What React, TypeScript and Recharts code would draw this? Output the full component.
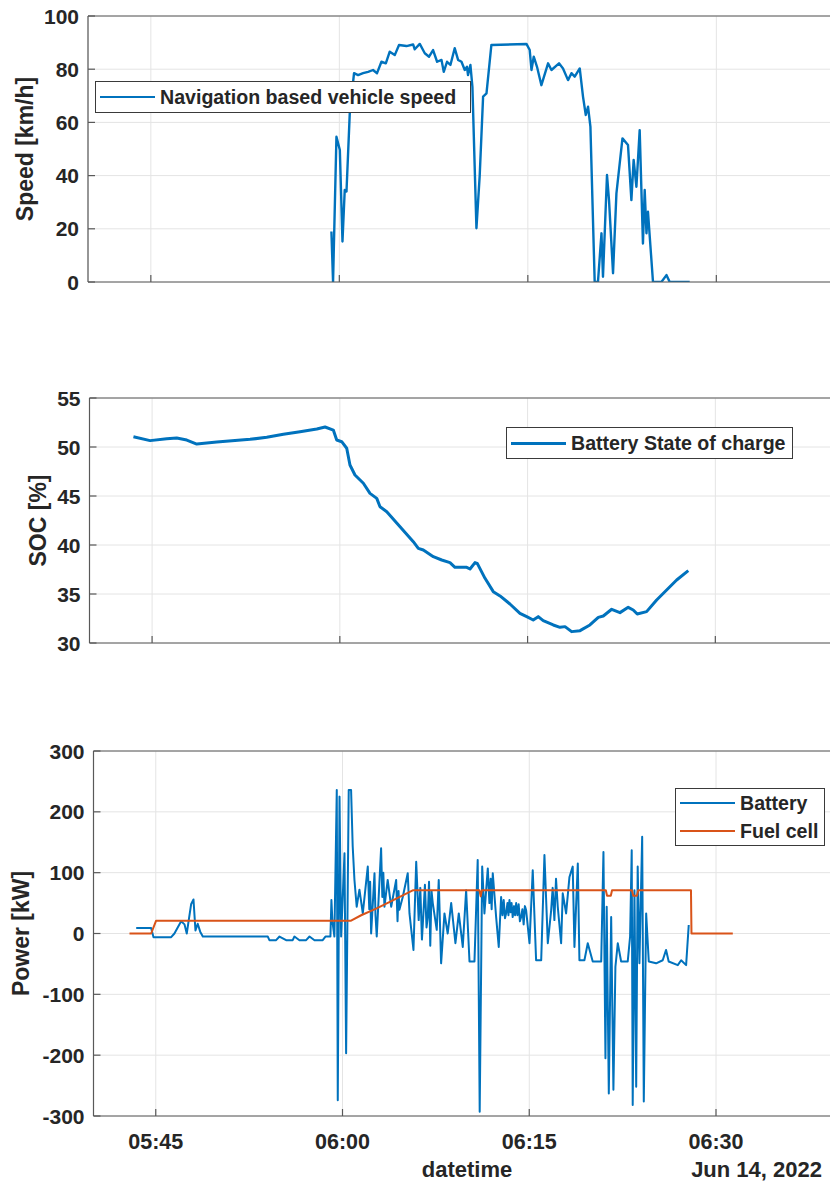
import { LineChart, Line, XAxis, YAxis, CartesianGrid } from 'recharts';

// time axis values are minutes after midnight (345 = 05:45)
const speedTime = [
  359.37, 359.5, 359.77, 360.04, 360.25, 360.43, 360.57, 360.83, 361.17, 361.49,
  361.89, 362.29, 362.68, 363.0, 363.35, 363.7, 364.01, 364.41, 364.75, 365.34,
  365.87, 366.0, 366.4, 366.8, 367.14, 367.46, 367.78, 368.13, 368.31, 368.57,
  368.84, 369.18, 369.45, 369.72, 369.98, 370.16, 370.24, 370.43, 370.59, 370.91,
  371.17, 371.44, 371.71, 372.1, 374.89, 375.15, 375.29, 375.47, 375.73, 376.08,
  376.61, 376.88, 377.48, 377.8, 378.2, 378.47, 378.73, 379.13, 379.39, 379.61,
  379.79, 379.98, 380.32, 380.58, 380.86, 380.98, 381.3, 381.46, 381.78, 382.05,
  382.53, 382.97, 383.24, 383.42, 383.64, 383.9, 384.16, 384.3, 384.44, 384.56,
  384.96, 385.63, 386.03, 386.29, 387.88,
];
const speedKmh = [
  19, 0, 54.6, 49.6, 15.2, 34.6, 34, 63.4, 78.5, 77.8,
  78.5, 79, 79.7, 78.5, 82.8, 82.2, 86.6, 85.3, 89.1, 88.7,
  89.3, 87.5, 89.5, 86, 84.7, 87.2, 82.8, 83.5, 79, 82.8,
  81.6, 87.9, 83.5, 82.8, 79.7, 80.9, 77.8, 81.6, 73.4, 20.2,
  40, 69.7, 70.9, 89.1, 89.5, 87.2, 79.7, 84.7, 80.9, 74,
  82.2, 79.7, 82.2, 80.3, 75.9, 78.5, 77.2, 80.3, 69.7, 62.8,
  65.9, 58.4, 0, 0, 18.3, 2, 40.2, 30.8, 3.3, 33.3,
  54, 51.5, 30.8, 45.9, 35.8, 57.1, 14.5, 34.6, 18.3, 26.4,
  0, 0, 2.6, 0, 0,
];

const socTime = [
  343.51, 344.84, 346.17, 346.97, 347.77, 348.57, 350.17, 352.83, 354.16, 355.49,
  356.82, 358.16, 358.82, 359.48, 359.75, 360.15, 360.55, 360.81, 361.21, 361.88,
  362.41, 362.95, 363.21, 363.75, 364.81, 365.87, 366.27, 366.67, 367.47, 368.14,
  368.8, 369.2, 370.14, 370.4, 370.8, 370.98, 371.6, 372.26, 372.8, 373.59,
  374.39, 374.93, 375.45, 375.85, 376.25, 377.05, 377.59, 377.99, 378.52, 379.19,
  379.98, 380.65, 381.05, 381.72, 382.38, 383.04, 383.44, 383.76, 384.51, 385.31,
  386.11, 386.91, 387.84,
];
const socPct = [
  51.05, 50.65, 50.85, 50.92, 50.71, 50.3, 50.5, 50.78, 50.99, 51.3,
  51.56, 51.84, 52.04, 51.73, 50.71, 50.54, 49.87, 48.16, 47.14, 46.3,
  45.27, 44.76, 43.91, 43.4, 41.87, 40.34, 39.66, 39.49, 38.81, 38.47,
  38.2, 37.72, 37.72, 37.55, 38.2, 38.13, 36.6, 35.24, 34.8, 33.98,
  33.03, 32.69, 32.35, 32.69, 32.28, 31.84, 31.6, 31.67, 31.16, 31.26,
  31.84, 32.62, 32.76, 33.44, 33.1, 33.64, 33.37, 32.96, 33.2, 34.39,
  35.41, 36.43, 37.38,
];

const batteryTime = [
  343.43, 344.63, 344.82, 346.24, 346.5, 347.04, 347.31, 347.49, 347.84, 348.03,
  348.19, 348.37, 348.57, 348.78, 354.0, 354.13, 354.67, 354.94, 355.47, 356.0,
  356.14, 356.54, 357.08, 357.35, 357.75, 358.41, 358.63, 359.03, 359.11, 359.19,
  359.35, 359.54, 359.62, 359.76, 359.89, 360.16, 360.29, 360.5, 360.69, 360.82,
  360.96, 361.14, 361.36, 361.63, 362.03, 362.15, 362.22, 362.3, 362.57, 362.65,
  362.75, 363.1, 363.2, 363.28, 363.37, 363.63, 363.91, 364.31, 364.42, 364.5,
  364.57, 364.84, 365.24, 365.38, 365.7, 365.92, 366.12, 366.25, 366.38, 366.5,
  366.62, 366.75, 366.85, 366.95, 367.05, 367.15, 367.25, 367.57, 367.73, 367.92,
  368.19, 368.45, 368.73, 369.07, 369.34, 369.66, 369.93, 370.2, 370.6, 370.86,
  371.02, 371.22, 371.4, 371.67, 371.8, 371.9, 371.98, 372.07, 372.34, 372.55,
  372.74, 372.85, 372.95, 373.05, 373.14, 373.25, 373.33, 373.41, 373.5, 373.58,
  373.67, 373.78, 373.86, 373.95, 374.05, 374.15, 374.25, 374.35, 374.45, 374.55,
  374.65, 374.75, 375.02, 375.28, 375.55, 375.96, 376.22, 376.49, 376.76, 376.88,
  377.02, 377.15, 377.29, 377.56, 377.69, 377.96, 378.23, 378.49, 378.63, 378.9,
  379.03, 379.43, 379.7, 380.1, 380.78, 380.96, 381.12, 381.22, 381.39, 381.58,
  381.76, 381.92, 382.11, 382.38, 382.91, 383.1, 383.23, 383.31, 383.45, 383.59,
  383.71, 383.85, 384.07, 384.2, 384.39, 384.6, 385.19, 385.72, 385.99, 386.2,
  386.93, 387.2, 387.6, 387.81,
];
const batteryKw = [
  9, 9, -6, -6, 0, 20, 15, 0, 48, 56,
  5, 16, 3, -5, -5, -11, -11, -5, -11, -11,
  -5, -11, -11, -5, -11, -11, -5, -5, 55, 20,
  -5, 236, -274, 225, -5, 132, -197, 236, 236, 143,
  88, 44, 72, 33, 110, 40, 85, 0, 99, 30,
  -5, 140, 60, 100, 44, 88, 44, 88, 20, 70,
  39, 60, 99, 33, -27, 118, 22, 75, -10, 33,
  80, 10, 27, 85, -20, 70, 50, 6, 88, -49,
  33, 0, 50, -16, 33, -22, 71, -46, -46, 121,
  -293, 110, 33, 107, 50, 90, 40, 99, 27, -22,
  60, 30, 55, 25, 33, 50, 30, 55, 35, 50,
  27, 45, 30, 50, 30, 48, 20, 27, 40, 15,
  45, 38, -16, 104, -44, -44, 129, -16, 38, 75,
  22, 90, 44, -16, 66, 33, 93, 110, -22, 115,
  -44, -44, -16, -46, -46, 134, -205, 44, -263, 27,
  -257, -55, -16, -46, -46, -5, 137, -282, 71, -252,
  110, -49, 159, -276, 33, -46, -49, -44, -27, -46,
  -52, -44, -52, 14,
];

const fuelCellTime = [
  342.89, 344.63, 345.03, 360.69, 361.5, 362.7, 363.8, 365.64, 371.0, 371.1,
  371.2, 381.15, 381.25, 381.55, 381.65, 383.25, 383.35, 383.65, 383.75, 387.99,
  388.03, 391.35,
];
const fuelCellKw = [
  0, 0, 21, 21, 30, 41, 52, 71, 71, 61,
  71, 71, 62, 62, 71, 71, 62, 62, 71, 71,
  0, 0,
];

const xTicks = [345, 360, 375, 390];
const speedTicks = [0, 20, 40, 60, 80, 100];
const socTicks = [30, 35, 40, 45, 50, 55];
const powerTicks = [-300, -200, -100, 0, 100, 200, 300];

const pairs = (t: number[], v: number[]) => t.map((x, i) => ({ t: x, v: v[i] }));

const BLUE = '#0072BD';
const ORANGE = '#D95319';
const INK = '#262626';
const AXIS = '#595959';
const GRID = '#e4e4e4';
const FONT = '"Liberation Sans", Arial, Helvetica, sans-serif';
const TICK_LEN = 7;

const clock = (m: number) =>
  `${String(Math.floor(m / 60)).padStart(2, '0')}:${String(m % 60).padStart(2, '0')}`;

interface Geom { left: number; top: number; width: number; height: number }
interface Series { data: { t: number; v: number }[]; color: string; width: number }

function Panel({ g, domain, yTicks, series, xLabels }: {
  g: Geom; domain: [number, number]; yTicks: number[]; series: Series[]; xLabels?: boolean;
}) {
  const padTop = 20;
  const padBottom = 70;
  const padRight = 10;
  // the top/bottom x axes and the right y axis each take 1px, so trim the margins by that
  return (
    <div style={{ position: 'absolute', left: 0, top: g.top - padTop }}>
      <LineChart
        width={g.left + g.width + padRight}
        height={padTop + g.height + padBottom}
        margin={{ top: padTop - 1, right: padRight - 1, bottom: padBottom - 1, left: 0 }}
      >
        <CartesianGrid stroke={GRID} strokeWidth={1} />
        <XAxis
          type="number" dataKey="t" domain={[340, 400]} ticks={xTicks} interval={0}
          allowDataOverflow height={1} tickSize={0} tickMargin={0} tickLine={false}
          axisLine={{ stroke: AXIS, strokeWidth: 1.2 }}
          tick={(p: any) => (
            <g>
              <line x1={p.x} x2={p.x} y1={p.y} y2={p.y - TICK_LEN} stroke={AXIS} strokeWidth={1.2} />
              {xLabels && (
                <text x={p.x} y={p.y + 33} textAnchor="middle" fill={INK}
                  style={{ fontFamily: FONT, fontWeight: 700, fontSize: 21.5 }}>
                  {clock(p.payload.value)}
                </text>
              )}
            </g>
          )}
        />
        <XAxis
          xAxisId="top" orientation="top" type="number" domain={[340, 400]} ticks={xTicks}
          interval={0} allowDataOverflow height={1} tickSize={0} tickMargin={0} tickLine={false}
          axisLine={{ stroke: AXIS, strokeWidth: 1.2 }}
          tick={(p: any) => (
            <line x1={p.x} x2={p.x} y1={p.y} y2={p.y + TICK_LEN} stroke={AXIS} strokeWidth={1.2} />
          )}
        />
        <YAxis
          type="number" domain={domain} ticks={yTicks} interval={0} allowDataOverflow
          width={g.left} tickSize={0} tickMargin={0} tickLine={false}
          axisLine={{ stroke: AXIS, strokeWidth: 1.2 }}
          tick={(p: any) => (
            <g>
              <line x1={p.x} x2={p.x + TICK_LEN} y1={p.y} y2={p.y} stroke={AXIS} strokeWidth={1.2} />
              <text x={p.x - 9} y={p.y + 7.5} textAnchor="end" fill={INK}
                style={{ fontFamily: FONT, fontWeight: 700, fontSize: 21 }}>
                {p.payload.value}
              </text>
            </g>
          )}
        />
        <YAxis
          yAxisId="r" orientation="right" type="number" domain={domain} ticks={yTicks}
          interval={0} allowDataOverflow width={1} tickSize={0} tickMargin={0} tickLine={false}
          axisLine={{ stroke: AXIS, strokeWidth: 1.2 }}
          tick={(p: any) => (
            <line x1={p.x} x2={p.x - TICK_LEN} y1={p.y} y2={p.y} stroke={AXIS} strokeWidth={1.2} />
          )}
        />
        {series.map((s, i) => (
          <Line
            key={i} data={s.data} dataKey="v" type="linear" stroke={s.color}
            strokeWidth={s.width} strokeLinejoin="round" dot={false} activeDot={false}
            isAnimationActive={false}
          />
        ))}
      </LineChart>
    </div>
  );
}

function LegendBox({ left, top, width, rowH, items }: {
  left: number; top: number; width: number; rowH: number; items: { label: string; color: string; lw: number }[];
}) {
  return (
    <div style={{
      position: 'absolute', left, top, width, boxSizing: 'border-box',
      border: '1.2px solid #3a3a3a', background: '#fff', padding: '0 4px',
    }}>
      {items.map((it) => (
        <div key={it.label} style={{ display: 'flex', alignItems: 'center', height: rowH }}>
          <div style={{ width: 55, height: it.lw, background: it.color, marginRight: 5, flexShrink: 0 }} />
          <span style={{
            fontFamily: FONT, fontWeight: 700, fontSize: 19.6, color: INK, whiteSpace: 'nowrap',
          }}>{it.label}</span>
        </div>
      ))}
    </div>
  );
}

const speedGeom: Geom = { left: 88, top: 16, width: 754, height: 266 };
const socGeom: Geom = { left: 89.5, top: 398, width: 751, height: 245 };
const powerGeom: Geom = { left: 93.5, top: 751, width: 747, height: 365 };

function YTitle({ x, g, text }: { x: number; g: Geom; text: string }) {
  const cy = g.top + g.height / 2;
  return (
    <text x={x} y={cy} transform={`rotate(-90 ${x} ${cy})`} textAnchor="middle" fill={INK}
      style={{ fontFamily: FONT, fontWeight: 700, fontSize: 23 }}>
      {text}
    </text>
  );
}

export default function App() {
  return (
    <div style={{
      position: 'relative', width: 838, height: 1182, margin: '-8px 0 0 -8px',
      overflow: 'hidden', background: '#fff',
    }}>
      <Panel g={speedGeom} domain={[0, 100]} yTicks={speedTicks}
        series={[{ data: pairs(speedTime, speedKmh), color: BLUE, width: 2.4 }]} />
      <Panel g={socGeom} domain={[30, 55]} yTicks={socTicks}
        series={[{ data: pairs(socTime, socPct), color: BLUE, width: 3 }]} />
      <Panel g={powerGeom} domain={[-300, 300]} yTicks={powerTicks} xLabels
        series={[
          { data: pairs(batteryTime, batteryKw), color: BLUE, width: 2 },
          { data: pairs(fuelCellTime, fuelCellKw), color: ORANGE, width: 2 },
        ]} />

      <svg width={838} height={1182} style={{ position: 'absolute', left: 0, top: 0, pointerEvents: 'none' }}>
        <YTitle x={33} g={speedGeom} text="Speed [km/h]" />
        <YTitle x={46} g={socGeom} text="SOC [%]" />
        <YTitle x={29} g={powerGeom} text="Power [kW]" />
        <text x={467} y={1177} textAnchor="middle" fill={INK}
          style={{ fontFamily: FONT, fontWeight: 700, fontSize: 22 }}>datetime</text>
        <text x={822} y={1177} textAnchor="end" fill={INK}
          style={{ fontFamily: FONT, fontWeight: 700, fontSize: 22 }}>Jun 14, 2022</text>
      </svg>

      <LegendBox left={95} top={81} width={376} rowH={30}
        items={[{ label: 'Navigation based vehicle speed', color: BLUE, lw: 2.5 }]} />
      <LegendBox left={506} top={427} width={287} rowH={30}
        items={[{ label: 'Battery State of charge', color: BLUE, lw: 3 }]} />
      <LegendBox left={675} top={788} width={150} rowH={28}
        items={[
          { label: 'Battery', color: BLUE, lw: 2.5 },
          { label: 'Fuel cell', color: ORANGE, lw: 2.5 },
        ]} />
    </div>
  );
}
